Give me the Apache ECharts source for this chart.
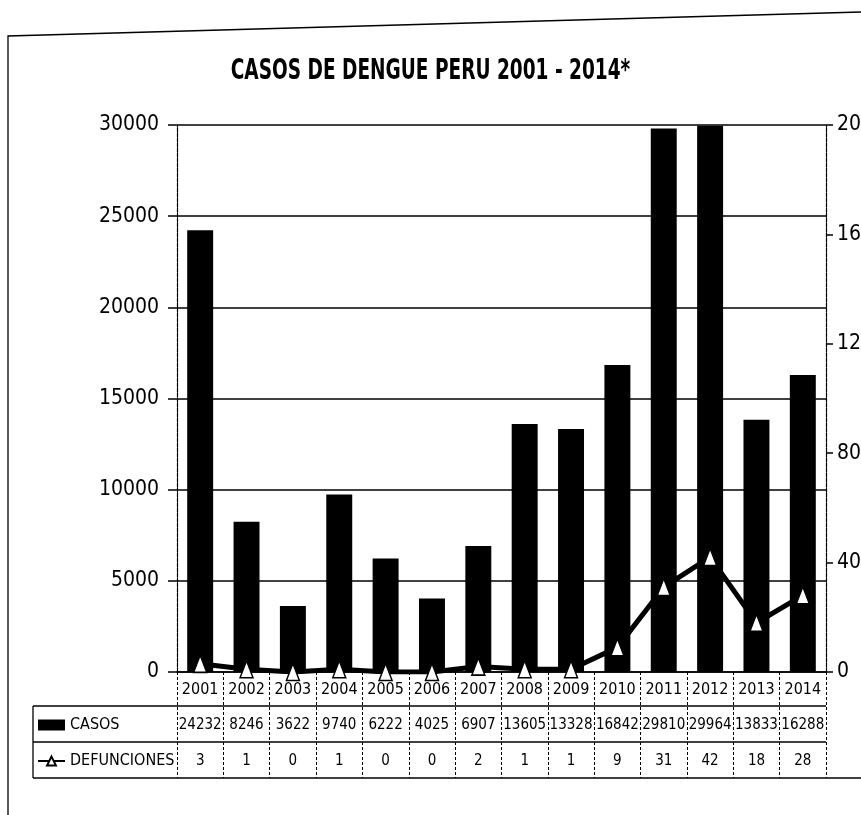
<!DOCTYPE html>
<html>
<head>
<meta charset="utf-8">
<title>Casos de dengue Perú 2001 - 2014</title>
<script src="https://cdn.jsdelivr.net/npm/echarts@6/dist/echarts.min.js"></script>
<style>
  html, body { margin: 0; padding: 0; background: #ffffff; }
  #chart { width: 861px; height: 815px; }
</style>
</head>
<body>
<div id="chart"></div>
<script>
// Yearly dengue cases and deaths, Peru
const years = ['2001', '2002', '2003', '2004', '2005', '2006', '2007', '2008', '2009', '2010', '2011', '2012', '2013', '2014'];
const casos = [24232, 8246, 3622, 9740, 6222, 4025, 6907, 13605, 13328, 16842, 29810, 29964, 13833, 16288];
const defunciones = [3, 1, 0, 1, 0, 0, 2, 1, 1, 9, 31, 42, 18, 28];

// condensed face of DejaVu Sans, requested through the font-stretch keyword
const FONT = "'DejaVu Sans', sans-serif";
const STRETCH = 'condensed';

const GRID = { left: 177, right: 35, top: 125, bottom: 143, outerBoundsMode: 'none' };
const W = 861, H = 815;
const plotBottom = H - GRID.bottom;       // y of the category axis
const tableTop = plotBottom + 34;         // top of the CASOS row
const rowH = 36;

const chart = echarts.init(document.getElementById('chart'), null, { renderer: 'canvas' });

const plainNumber = (v) => String(v);

// a hidden-line category axis that only prints one row of the table
function tableRowAxis(values, offset) {
  return {
    type: 'category',
    gridIndex: 0,
    position: 'bottom',
    offset: offset,
    data: values.map(String),
    axisLine: { show: false },
    axisTick: { show: false },
    axisLabel: { interval: 0, color: '#000', fontFamily: FONT, fontStyle: STRETCH, fontSize: 15, margin: 10 },
    splitLine: { show: false }
  };
}

const option = {
  backgroundColor: '#ffffff',
  animation: false,
  legend: {
    orient: 'vertical',
    left: 37,
    top: tableTop + 11,
    padding: 0,
    itemGap: 20,
    itemWidth: 27,
    itemHeight: 11,
    textStyle: { color: '#000', fontFamily: FONT, fontStyle: STRETCH, fontSize: 16 },
    data: [
      { name: 'CASOS', icon: 'rect' },
      { name: 'DEFUNCIONES' }
    ]
  },
  grid: GRID,
  xAxis: [
    {
      type: 'category',
      data: years,
      axisLine: { lineStyle: { color: '#000', width: 1.5 } },
      axisTick: {
        show: true,
        interval: 0,
        length: tableTop + 2 * rowH - plotBottom,
        lineStyle: { color: '#000', type: [3, 2], width: 1 }
      },
      axisLabel: { interval: 0, color: '#000', fontFamily: FONT, fontStyle: STRETCH, fontSize: 16, margin: 10 }
    },
    tableRowAxis(casos, 36),
    tableRowAxis(defunciones, 72)
  ],
  yAxis: [
    {
      type: 'value',
      min: 0,
      max: 30000,
      interval: 5000,
      axisLine: { show: true, lineStyle: { color: '#000', width: 1.2, type: [4, 1] } },
      axisTick: { show: true, length: 9, lineStyle: { color: '#000', width: 1.5 } },
      axisLabel: { color: '#000', fontFamily: FONT, fontStyle: STRETCH, fontSize: 21, margin: 18, formatter: plainNumber },
      splitLine: { show: true, lineStyle: { color: '#000', width: 1.6 } }
    },
    {
      type: 'value',
      min: 0,
      max: 200,
      interval: 40,
      position: 'right',
      axisLine: { show: true, lineStyle: { color: '#000', width: 1.2, type: [4, 1] } },
      axisTick: { show: true, length: 7, lineStyle: { color: '#000', width: 1.5 } },
      axisLabel: { color: '#000', fontFamily: FONT, fontStyle: STRETCH, fontSize: 21, margin: 11, formatter: plainNumber },
      splitLine: { show: false }
    }
  ],
  series: [
    {
      name: 'CASOS',
      type: 'bar',
      xAxisIndex: 0,
      yAxisIndex: 0,
      data: casos,
      barWidth: '56%',
      itemStyle: { color: '#000' }
    },
    {
      name: 'DEFUNCIONES',
      type: 'line',
      xAxisIndex: 0,
      yAxisIndex: 1,
      data: defunciones,
      symbol: 'triangle',
      symbolSize: [13, 17],
      lineStyle: { color: '#000', width: 5 },
      itemStyle: { color: '#ffffff', borderColor: '#000', borderWidth: 1.5 },
      z: 5
    }
  ],
  graphic: [
    // chart title, squeezed horizontally like a narrow typeface
    { type: 'text', silent: true, left: 'center', top: 57,
      style: { text: 'CASOS DE DENGUE PERU 2001 - 2014*', fill: '#000',
               font: "condensed bold 29px 'DejaVu Sans', sans-serif" },
      scaleX: 0.71, originX: 0 },
    // outer frame of the figure
    { type: 'polyline', silent: true, shape: { points: [[8, H], [8, 36], [W, 12]] },
      style: { stroke: '#000', lineWidth: 1.3, fill: null } },
    // horizontal rules of the data table
    { type: 'line', silent: true, shape: { x1: 33, y1: tableTop, x2: W - GRID.right, y2: tableTop },
      style: { stroke: '#000', lineWidth: 1.3 } },
    { type: 'line', silent: true, shape: { x1: 33, y1: tableTop + rowH, x2: W - GRID.right, y2: tableTop + rowH },
      style: { stroke: '#000', lineWidth: 1.3 } },
    { type: 'line', silent: true, shape: { x1: 33, y1: tableTop + 2 * rowH, x2: W, y2: tableTop + 2 * rowH },
      style: { stroke: '#000', lineWidth: 1.3 } },
    // left edge of the legend column
    { type: 'line', silent: true, shape: { x1: 33, y1: tableTop, x2: 33, y2: tableTop + 2 * rowH },
      style: { stroke: '#000', lineWidth: 1.3 } }
  ]
};

chart.setOption(option);
</script>
</body>
</html>
